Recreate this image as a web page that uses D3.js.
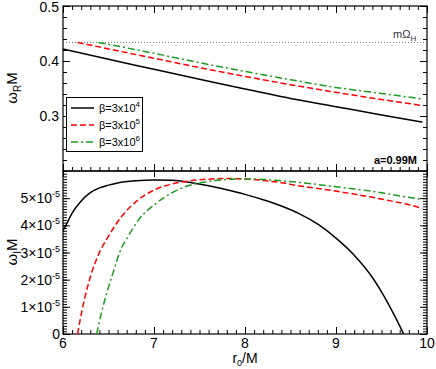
<!DOCTYPE html>
<html>
<head>
<meta charset="utf-8">
<script src="https://cdn.jsdelivr.net/npm/d3@7"></script>
<style>
  body { margin: 0; background: #fff; }
  svg { font-family: "Liberation Sans", Arial, Helvetica, sans-serif; }
</style>
</head>
<body>
<svg width="436" height="369"></svg>
<script>
// omega_R M vs r0/M  (upper panel)
const wR_beta4 = [[6.0,0.422],[6.5,0.403],[7.0,0.385],[7.5,0.367],[8.0,0.349],[8.5,0.332],[9.0,0.317],[9.5,0.302],[9.95,0.289]];
const wR_beta5 = [[6.16,0.4338],[6.5,0.422],[7.0,0.405],[7.5,0.388],[8.0,0.372],[8.5,0.357],[9.0,0.343],[9.5,0.330],[9.95,0.319]];
const wR_beta6 = [[6.39,0.4338],[7.0,0.414],[7.5,0.397],[8.0,0.381],[8.5,0.366],[9.0,0.352],[9.5,0.341],[9.95,0.331]];
const mOmegaH = 0.4338;

// omega_I M vs r0/M, in units of 1e-5 (lower panel)
const wI_beta4 = [[6.0,3.8],[6.05,4.12],[6.1,4.45],[6.2,4.9],[6.3,5.2],[6.4,5.38],[6.5,5.48],[6.6,5.56],[6.8,5.64],[7.0,5.67],[7.2,5.66],[7.4,5.58],[7.6,5.46],[7.8,5.31],[8.0,5.14],[8.2,4.94],[8.4,4.71],[8.6,4.42],[8.8,4.04],[9.0,3.53],[9.2,2.9],[9.4,2.08],[9.5,1.55],[9.6,0.95],[9.7,0.3],[9.743,0]];
const wI_beta5 = [[6.16,0],[6.2,0.72],[6.28,1.86],[6.38,2.85],[6.5,3.6],[6.65,4.35],[6.83,4.95],[7.0,5.3],[7.2,5.52],[7.4,5.64],[7.6,5.7],[7.8,5.72],[8.0,5.71],[8.2,5.65],[8.4,5.57],[8.6,5.45],[8.8,5.36],[9.0,5.26],[9.2,5.15],[9.4,5.03],[9.6,4.9],[9.8,4.76],[9.95,4.62]];
const wI_beta6 = [[6.37,0],[6.42,0.75],[6.48,1.5],[6.55,2.25],[6.64,3.15],[6.7,3.5],[6.83,4.2],[7.0,4.75],[7.2,5.2],[7.34,5.42],[7.5,5.56],[7.7,5.66],[8.0,5.71],[8.2,5.69],[8.4,5.64],[8.6,5.58],[8.8,5.5],[9.0,5.42],[9.2,5.34],[9.4,5.25],[9.6,5.14],[9.8,5.03],[9.95,4.95]];

const xTicks = [6, 7, 8, 9, 10];
const yRTicks = [0.3, 0.4, 0.5];
const yITicks = [0, 1, 2, 3, 4, 5];
const legendLabels = [["\u03b2=3x10", "4"], ["\u03b2=3x10", "5"], ["\u03b2=3x10", "6"]];

const svg = d3.select('svg');

// scales
const x = d3.scaleLinear().domain([6, 10]).range([63, 427]);
const yR = d3.scaleLinear().domain([0.2, 0.5]).range([171, 6]);
const yI = d3.scaleLinear().domain([0, 6]).range([334, 171]);

const styles = [
  { color: '#000', dash: null },
  { color: '#ff0000', dash: '6,3' },
  { color: '#1e9a1e', dash: '7,3,2,3' }
];

// clip paths for each panel
const defs = svg.append('defs');
defs.append('clipPath').attr('id', 'clipTop')
  .append('rect').attr('x', 63).attr('y', 6).attr('width', 364).attr('height', 165);
defs.append('clipPath').attr('id', 'clipBot')
  .append('rect').attr('x', 63).attr('y', 171).attr('width', 364).attr('height', 163);

// helper: draw inward ticks of one axis
function tickAxis(axisGen, transform) {
  svg.append('g')
    .attr('transform', transform)
    .call(axisGen)
    .call(g => g.select('.domain').remove())
    .call(g => g.selectAll('line').attr('stroke', '#000').attr('stroke-width', 1));
}

const minorX = d3.range(60, 101).map(d => d / 10);
const minorYR = d3.range(10, 26).map(d => d / 50);
const minorYI = d3.range(0, 61).map(d => d / 10);

// upper panel ticks
tickAxis(d3.axisTop(x).tickValues(xTicks).tickSize(-7).tickFormat(''), 'translate(0,6)');
tickAxis(d3.axisTop(x).tickValues(minorX).tickSize(-4).tickFormat(''), 'translate(0,6)');
tickAxis(d3.axisBottom(x).tickValues(xTicks).tickSize(-7).tickFormat(''), 'translate(0,171)');
tickAxis(d3.axisBottom(x).tickValues(minorX).tickSize(-4).tickFormat(''), 'translate(0,171)');
tickAxis(d3.axisLeft(yR).tickValues(yRTicks).tickSize(-7).tickFormat(''), 'translate(63,0)');
tickAxis(d3.axisLeft(yR).tickValues(minorYR).tickSize(-4).tickFormat(''), 'translate(63,0)');
tickAxis(d3.axisRight(yR).tickValues(yRTicks).tickSize(-7).tickFormat(''), 'translate(427,0)');
tickAxis(d3.axisRight(yR).tickValues(minorYR).tickSize(-4).tickFormat(''), 'translate(427,0)');

// lower panel ticks
tickAxis(d3.axisBottom(x).tickValues(xTicks).tickSize(-7).tickFormat(''), 'translate(0,334)');
tickAxis(d3.axisBottom(x).tickValues(minorX).tickSize(-4).tickFormat(''), 'translate(0,334)');
tickAxis(d3.axisTop(x).tickValues(xTicks).tickSize(-6).tickFormat(''), 'translate(0,171)');
tickAxis(d3.axisLeft(yI).tickValues(yITicks).tickSize(-7).tickFormat(''), 'translate(63,0)');
tickAxis(d3.axisLeft(yI).tickValues(minorYI).tickSize(-4).tickFormat(''), 'translate(63,0)');
tickAxis(d3.axisRight(yI).tickValues(yITicks).tickSize(-7).tickFormat(''), 'translate(427,0)');
tickAxis(d3.axisRight(yI).tickValues(minorYI).tickSize(-4).tickFormat(''), 'translate(427,0)');

// frames
svg.append('rect').attr('x', 63).attr('y', 6).attr('width', 364).attr('height', 165)
  .attr('fill', 'none').attr('stroke', '#000').attr('stroke-width', 1.2);
svg.append('rect').attr('x', 63).attr('y', 171).attr('width', 364).attr('height', 163)
  .attr('fill', 'none').attr('stroke', '#000').attr('stroke-width', 1.2);

// tick labels
svg.append('g').selectAll('text')
  .data(xTicks).enter().append('text')
  .attr('x', d => x(d)).attr('y', 348)
  .attr('text-anchor', 'middle').attr('font-size', 14)
  .text(d => d);

svg.append('g').selectAll('text')
  .data(yRTicks).enter().append('text')
  .attr('x', 59).attr('y', d => Math.max(yR(d) + 5, 12))
  .attr('text-anchor', 'end').attr('font-size', 14)
  .text(d => d.toFixed(1));

const yIlab = svg.append('g').selectAll('text')
  .data(yITicks).enter().append('text')
  .attr('x', 60).attr('y', d => yI(d) + 5)
  .attr('text-anchor', 'end').attr('font-size', 14);
yIlab.each(function (d) {
  const t = d3.select(this);
  if (d === 0) { t.text('0'); return; }
  t.append('tspan').text(d + '\u00d710');
  t.append('tspan').attr('dy', -6).attr('font-size', 9).text('-5');
});

// axis titles
const tR = svg.append('text')
  .attr('transform', 'translate(17,88) rotate(-90)')
  .attr('text-anchor', 'middle').attr('font-size', 15);
tR.append('tspan').text('\u03c9');
tR.append('tspan').attr('dy', 4).attr('font-size', 10).text('R');
tR.append('tspan').attr('dy', -4).text('M');

const tI = svg.append('text')
  .attr('transform', 'translate(17,252) rotate(-90)')
  .attr('text-anchor', 'middle').attr('font-size', 15);
tI.append('tspan').text('\u03c9');
tI.append('tspan').attr('dy', 4).attr('font-size', 10).text('I');
tI.append('tspan').attr('dy', -4).text('M');

const tX = svg.append('text')
  .attr('x', 245).attr('y', 363)
  .attr('text-anchor', 'middle').attr('font-size', 14);
tX.append('tspan').text('r');
tX.append('tspan').attr('dy', 3).attr('font-size', 9).text('0');
tX.append('tspan').attr('dy', -3).text('/M');

// m Omega_H reference line
svg.append('line')
  .attr('x1', x(6)).attr('x2', x(10))
  .attr('y1', yR(mOmegaH)).attr('y2', yR(mOmegaH))
  .attr('stroke', '#777').attr('stroke-width', 1).attr('stroke-dasharray', '1,2');
const tO = svg.append('text')
  .attr('x', 393).attr('y', 38).attr('font-size', 11).attr('fill', '#333');
tO.append('tspan').text('m\u03a9');
tO.append('tspan').attr('dy', 3).attr('font-size', 8).text('H');

svg.append('text')
  .attr('x', 417).attr('y', 164)
  .attr('text-anchor', 'end').attr('font-size', 11).attr('font-weight', 'bold')
  .text('a=0.99M');

// curves
const lineR = d3.line().x(d => x(d[0])).y(d => yR(d[1])).curve(d3.curveMonotoneX);
const lineI = d3.line().x(d => x(d[0])).y(d => yI(d[1])).curve(d3.curveMonotoneX);

const topG = svg.append('g').attr('clip-path', 'url(#clipTop)');
[wR_beta4, wR_beta5, wR_beta6].forEach((s, i) => {
  topG.append('path').attr('d', lineR(s))
    .attr('fill', 'none').attr('stroke', styles[i].color)
    .attr('stroke-width', 1.5).attr('stroke-dasharray', styles[i].dash);
});

const botG = svg.append('g').attr('clip-path', 'url(#clipBot)');
[wI_beta4, wI_beta5, wI_beta6].forEach((s, i) => {
  botG.append('path').attr('d', lineI(s))
    .attr('fill', 'none').attr('stroke', styles[i].color)
    .attr('stroke-width', 1.5).attr('stroke-dasharray', styles[i].dash);
});

// legend
const leg = svg.append('g');
leg.append('rect').attr('x', 66.5).attr('y', 97.5).attr('width', 76).attr('height', 54)
  .attr('fill', '#fff').attr('stroke', '#000').attr('stroke-width', 1);
legendLabels.forEach((lab, i) => {
  const yy = 108 + i * 17;
  leg.append('line').attr('x1', 71).attr('x2', 94).attr('y1', yy).attr('y2', yy)
    .attr('stroke', styles[i].color).attr('stroke-width', 1.5)
    .attr('stroke-dasharray', styles[i].dash);
  const t = leg.append('text').attr('x', 99).attr('y', yy + 4).attr('font-size', 11);
  t.append('tspan').text(lab[0]);
  t.append('tspan').attr('dy', -5).attr('font-size', 8).text(lab[1]);
});
</script>
</body>
</html>
